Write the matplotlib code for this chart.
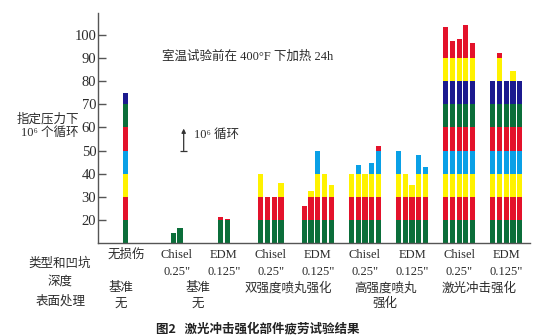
import numpy as np
import matplotlib
matplotlib.use('Agg')
from matplotlib import pyplot as plt
from matplotlib import transforms

# fatigue results, cycles (x 10^6) at the given stress, one list per test group
base_none = [75]
base_chisel = [14.3, 16.5]
base_edm = [21.5, 20.3]
dual_chisel = [40, 30, 30, 36]
dual_edm = [26, 32.5, 50, 40, 35]
high_chisel = [40, 44, 40, 44.5, 52]
high_edm = [50, 40, 35, 48, 43]
laser_chisel = [103.5, 97.5, 98, 104, 96.5]
laser_edm = [80, 92, 80, 84.5, 80]
groups = [base_none, base_chisel, base_edm, dual_chisel, dual_edm,
          high_chisel, high_edm, laser_chisel, laser_edm]

# labels
flaw_top = ['无损伤', 'Chisel', 'EDM', 'Chisel', 'EDM', 'Chisel', 'EDM', 'Chisel', 'EDM']
flaw_bot = ['', '0.25"', '0.125"', '0.25"', '0.125"', '0.25"', '0.125"', '0.25"', '0.125"']
treat_lbl = [('基准', '无'), ('基准', '无'), ('双强度喷丸强化', ''),
             ('高强度喷丸', '强化'), ('激光冲击强化', '')]
yticks = [20, 30, 40, 50, 60, 70, 80, 90, 100]

# colour of each 10-unit band starting at 10
band_cols = ['#0b6e3a', '#e3122b', '#fff200', '#0aa0e6', '#e3122b',
             '#0b6e3a', '#1b1a8f', '#fff200', '#e3122b']

serif = ['Liberation Serif', 'Noto Sans CJK SC']
txtc = '#2b2b2b'

fig = plt.figure(figsize=(5.5, 3.36), dpi=100)
ax = fig.add_axes([0.1776, 0.2759, 0.7860, 0.6863])

gpos = [-0.08, 1, 2, 3, 4, 5, 6, 7, 8]
pitch = 0.1445
bw = 0.11

for g, vals in zip(gpos, groups):
    n = len(vals)
    for j, h in enumerate(vals):
        x = g + (j - (n - 1) / 2) * pitch
        for k, c in enumerate(band_cols):
            lo = 10 + 10 * k
            if h <= lo:
                break
            hi = h if k == len(band_cols) - 1 else min(h, lo + 10)
            ax.bar(x, hi - lo, bottom=lo, width=bw, color=c, linewidth=0)

ax.set_xlim(-0.678, 8.506)
ax.set_ylim(10, 109.5)
ax.set_xticks([])
ax.set_yticks(yticks)
ax.tick_params(axis='y', direction='in', length=6, width=1, color='#555555',
               pad=1, labelsize=10.5, labelcolor=txtc)
for lab in ax.get_yticklabels():
    lab.set_family(serif)
for s in ['top', 'right']:
    ax.spines[s].set_visible(False)
for s in ['left', 'bottom']:
    ax.spines[s].set_color('#555555')
    ax.spines[s].set_linewidth(1)

# annotations
ax.text(0.688, 90.5, '室温试验前在 400°F 下加热 24h', family=serif, fontsize=9,
        color=txtc, va='center', ha='left')
ax.annotate('', xy=(1.149, 59.5), xytext=(1.149, 50),
            arrowprops=dict(arrowstyle='-|>', color='#333333', lw=0.9,
                            mutation_scale=6, shrinkA=0, shrinkB=0))
ax.hlines(50, 1.149 - 0.07, 1.149 + 0.07, color='#333333', lw=0.9)
ax.text(1.368, 56.8, '10⁶ 循环', family=serif, fontsize=9, color=txtc,
        va='center', ha='left')

H = 336.0
fig.text(48 / 550, 1 - 119 / H, '指定压力下', family=serif, fontsize=9,
         color=txtc, ha='center', va='center')
fig.text(50 / 550, 1 - 132.5 / H, '10⁶ 个循环', family=serif, fontsize=9,
         color=txtc, ha='center', va='center')

# x labels under the axis
tr = transforms.blended_transform_factory(ax.transData, fig.transFigure)
for g, t1, t2 in zip(gpos, flaw_top, flaw_bot):
    ax.text(g, 1 - 255 / H, t1, transform=tr, family=serif, fontsize=9,
            color=txtc, ha='center', va='center')
    if t2:
        ax.text(g, 1 - 271.7 / H, t2, transform=tr, family=serif, fontsize=9,
                color=txtc, ha='center', va='center')

tpos = [gpos[0] - 0.1, (gpos[1] + gpos[2]) / 2 - 0.05, (gpos[3] + gpos[4]) / 2 - 0.13,
        (gpos[5] + gpos[6]) / 2 - 0.07, (gpos[7] + gpos[8]) / 2 - 0.07]
for x, (t1, t2) in zip(tpos, treat_lbl):
    ax.text(x, 1 - 288.3 / H, t1, transform=tr, family=serif, fontsize=9,
            color=txtc, ha='center', va='center')
    if t2:
        ax.text(x, 1 - 304 / H, t2, transform=tr, family=serif, fontsize=9,
                color=txtc, ha='center', va='center')

fig.text(60 / 550, 1 - 264 / H, '类型和凹坑', family=serif, fontsize=9,
         color=txtc, ha='center', va='center')
fig.text(60 / 550, 1 - 281.7 / H, '深度', family=serif, fontsize=9,
         color=txtc, ha='center', va='center')
fig.text(60.8 / 550, 1 - 301.7 / H, '表面处理', family=serif, fontsize=9,
         color=txtc, ha='center', va='center')

fig.text(258 / 550, 1 - 329 / H, '图2   激光冲击强化部件疲劳试验结果',
         family=['Noto Sans CJK SC', 'DejaVu Sans'], fontsize=9,
         fontweight='bold', color='#222222', ha='center', va='center')

fig.savefig('out.png', dpi=100)
